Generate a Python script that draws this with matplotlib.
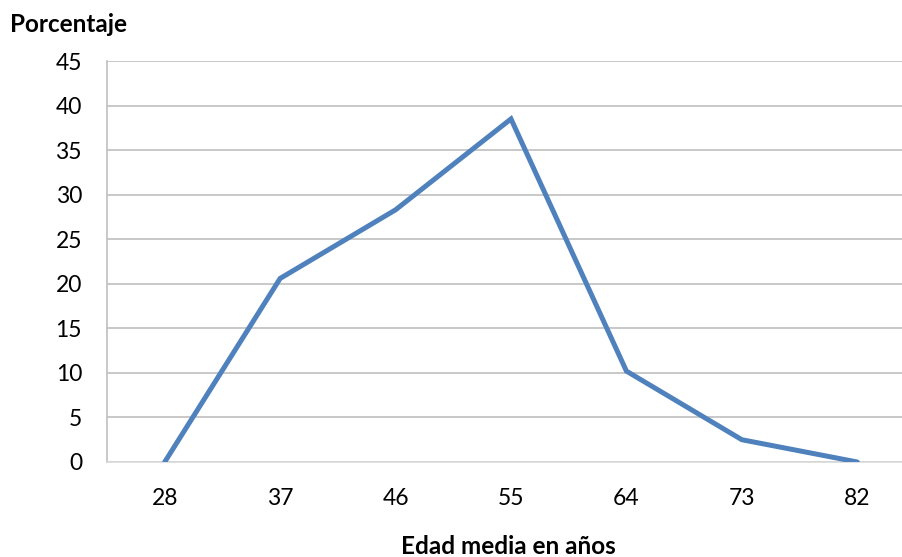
import matplotlib
matplotlib.use("Agg")
import matplotlib.pyplot as plt

plt.rcParams['font.family'] = ['Lato', 'DejaVu Sans']

edades = ["28", "37", "46", "55", "64", "73", "82"]
porcentaje = [0, 20.6, 28.3, 38.5, 10.2, 2.5, 0]

W, H = 902, 557
fig = plt.figure(figsize=(W / 100, H / 100), dpi=100)

left, right, bottom, top = 107, 915, 462, 61
ax = fig.add_axes([left / W, 1 - bottom / H, (right - left) / W, (bottom - top) / H])

x = list(range(len(edades)))
ax.plot(x, porcentaje, color="#4F81BD", linewidth=3.6, solid_capstyle="round",
        solid_joinstyle="miter", zorder=3)

ax.set_xlim(-0.5, len(edades) - 0.5)
ax.set_ylim(0, 45)
ax.set_yticks(range(0, 46, 5))
ax.set_xticks(x)
ax.set_xticklabels(edades)

ax.yaxis.grid(True, color="#BFBFBF", linewidth=1.2)
ax.set_axisbelow(True)
for s in ["top", "right"]:
    ax.spines[s].set_visible(False)
ax.spines["left"].set_color("#BFBFBF")
ax.spines["left"].set_linewidth(1.2)
ax.spines["bottom"].set_color("#D9D9D9")
ax.spines["bottom"].set_linewidth(1.2)

ax.tick_params(axis="both", length=0, labelsize=16.5, colors="black")
ax.tick_params(axis="y", pad=18)
ax.tick_params(axis="x", pad=19)

fig.text(10 / W, 1 - 25 / H, "Porcentaje", fontsize=17.5, fontweight="bold",
         ha="left", va="center")
fig.text(508 / W, 1 - 546 / H, "Edad media en años", fontsize=17.5,
         fontweight="bold", ha="center", va="center")

fig.savefig("out.png", dpi=100)
